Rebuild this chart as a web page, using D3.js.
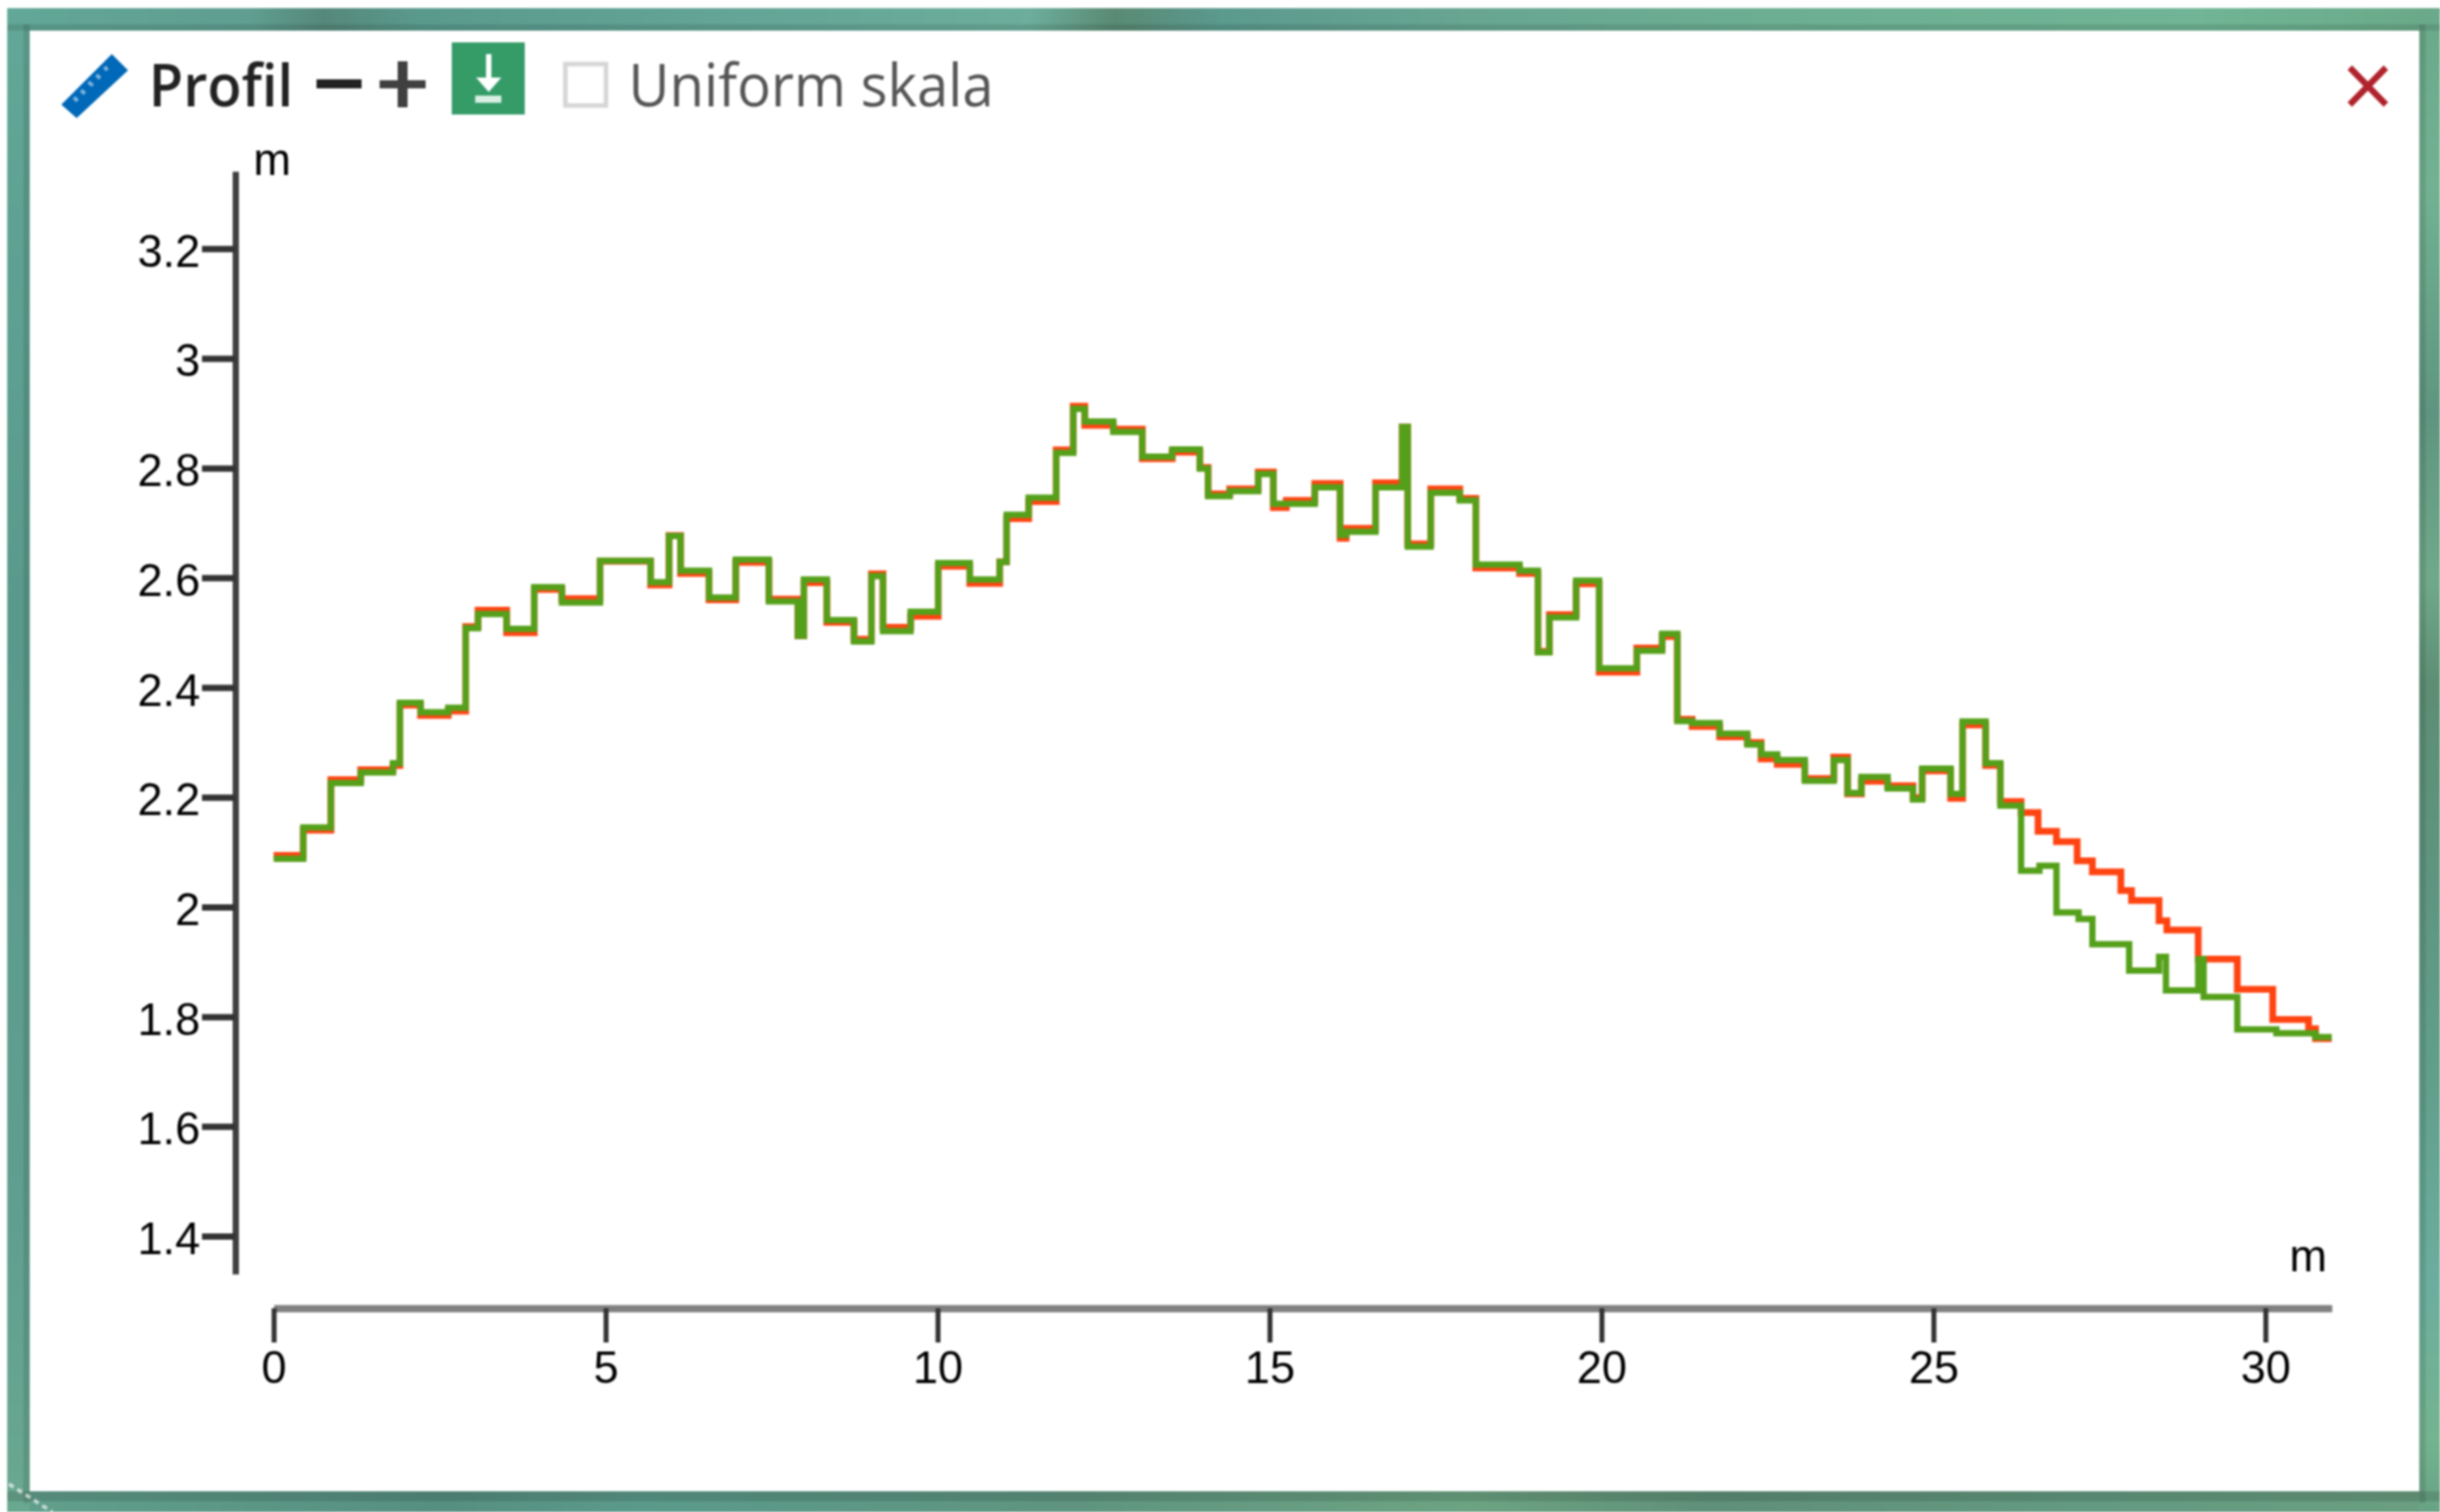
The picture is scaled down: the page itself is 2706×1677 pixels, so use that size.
<!DOCTYPE html>
<html>
<head>
<meta charset="utf-8">
<title>Profil</title>
<script src="https://cdn.jsdelivr.net/npm/d3@7"></script>
<style>
  html, body { margin: 0; padding: 0; background: #fff; overflow: hidden; }
  svg { display: block; filter: blur(1px); }
  .tick text, .unit { font-family: "Liberation Sans", Arial, sans-serif; font-size: 50px; fill: #000; }
  .head { font-family: "Open Sans", sans-serif; font-size: 65px; }
</style>
</head>
<body>
<div id="root"></div>
<script>
// distance along the profile (m) where each step starts, same for both lines up to 26 m
const sharedDist = [0, 0.446, 0.862, 1.312, 1.797, 1.901, 2.213, 2.629, 2.892, 3.079, 3.509, 3.925, 4.341, 4.916,
  5.678, 5.955, 6.129, 6.558, 6.96, 7.459, 7.896, 7.986, 8.332, 8.741, 9.004, 9.178, 9.594, 10.01, 10.485, 10.935,
  11.04, 11.372, 11.787, 12.044, 12.217, 12.647, 13.083, 13.534, 13.95, 14.074, 14.4, 14.83, 15.058, 15.252, 15.682,
  16.063, 16.153, 16.597, 16.999, 17.082, 17.428, 17.865, 18.107, 18.766, 19.043, 19.216, 19.618, 19.965, 20.533,
  20.914, 21.143, 21.365, 21.78, 22.196, 22.404, 22.647, 23.062, 23.499, 23.707, 23.915, 24.31, 24.691, 24.83,
  25.259, 25.439, 25.786, 26.008];

const greenShared = [2.088, 2.145, 2.226, 2.245, 2.262, 2.372, 2.355, 2.363, 2.508, 2.534, 2.507, 2.583, 2.555, 2.631,
  2.592, 2.676, 2.613, 2.564, 2.633, 2.557, 2.494, 2.597, 2.523, 2.484, 2.603, 2.503, 2.538, 2.627, 2.597, 2.629,
  2.715, 2.746, 2.828, 2.908, 2.885, 2.866, 2.821, 2.834, 2.799, 2.749, 2.758, 2.789, 2.735, 2.735, 2.765,
  2.678, 2.684, 2.765, 2.875, 2.657, 2.755, 2.741, 2.624, 2.613, 2.464, 2.528, 2.595, 2.435, 2.467,
  2.498, 2.339, 2.335, 2.316, 2.296, 2.278, 2.268, 2.23, 2.268, 2.208, 2.237, 2.216, 2.196, 2.252,
  2.206, 2.338, 2.262, 2.185];

const redShared = [2.094, 2.14, 2.232, 2.25, 2.258, 2.368, 2.349, 2.357, 2.511, 2.541, 2.5, 2.579, 2.562, 2.63,
  2.587, 2.677, 2.608, 2.56, 2.628, 2.561, 2.494, 2.591, 2.519, 2.488, 2.607, 2.51, 2.53, 2.621, 2.59, 2.629,
  2.708, 2.739, 2.833, 2.913, 2.878, 2.871, 2.817, 2.829, 2.801, 2.753, 2.762, 2.793, 2.728, 2.741, 2.772,
  2.672, 2.69, 2.773, 2.875, 2.662, 2.762, 2.745, 2.618, 2.608, 2.466, 2.533, 2.589, 2.428, 2.472,
  2.493, 2.342, 2.329, 2.31, 2.3, 2.27, 2.26, 2.234, 2.273, 2.206, 2.229, 2.221, 2.199, 2.248,
  2.198, 2.332, 2.258, 2.192];

// the last few metres, where the two lines split
const greenTailDist = [26.32, 26.597, 26.853, 27.186, 27.394, 27.948, 28.398, 28.502, 28.988, 29.07, 29.577, 30.166, 30.755, 31];
const greenTail = [2.066, 2.075, 1.99, 1.978, 1.932, 1.884, 1.909, 1.848, 1.905, 1.836, 1.777, 1.77, 1.763, 1.763];
const redTailDist = [26.32, 26.576, 26.853, 27.165, 27.394, 27.823, 27.983, 28.398, 28.516, 28.988, 29.577, 30.11, 30.65, 30.755, 31];
const redTail = [2.172, 2.138, 2.119, 2.084, 2.064, 2.03, 2.012, 1.975, 1.958, 1.905, 1.85, 1.795, 1.778, 1.76, 1.76];

const xTicks = [0, 5, 10, 15, 20, 25, 30];
const yTicks = [1.4, 1.6, 1.8, 2, 2.2, 2.4, 2.6, 2.8, 3, 3.2];

const w = 2706;
const h = 1677;

const svg = d3.select("#root").append("svg").attr("width", w).attr("height", h);
const defs = svg.append("defs");

// map background showing round the panel
function band(id, x1, y1, x2, y2, stops) {
  const g = defs.append("linearGradient").attr("id", id)
    .attr("x1", x1).attr("y1", y1).attr("x2", x2).attr("y2", y2);
  stops.forEach(s => g.append("stop").attr("offset", s[0]).attr("stop-color", s[1]));
}
band("bandTop", 0, 0, 1, 0, [[0, "#62a797"], [0.1, "#5f9e90"], [0.13, "#55887a"], [0.17, "#5a9a8d"], [0.3, "#63a596"],
  [0.42, "#6cae9b"], [0.455, "#5a8a74"], [0.5, "#5b9a8e"], [0.6, "#68a692"], [0.72, "#6cae92"], [0.9, "#70b595"], [1, "#6aa988"]]);
band("bandBottom", 0, 0, 1, 0, [[0, "#62a08c"], [0.18, "#568f80"], [0.26, "#5b9a8a"], [0.44, "#5f9580"], [0.6, "#6ca482"],
  [0.7, "#5f9078"], [0.85, "#639a80"], [1, "#6a9f80"]]);
band("bandRight", 0, 0, 0, 1, [[0, "#6aa98a"], [0.12, "#72b292"], [0.27, "#5f9580"], [0.38, "#70a98a"], [0.45, "#5d8e74"],
  [0.58, "#5f9580"], [0.72, "#62a08c"], [0.85, "#6cae9e"], [0.95, "#74b490"], [1, "#68a284"]]);
band("bandLeft", 0, 0, 0, 1, [[0, "#62a797"], [0.4, "#5a9a8c"], [0.8, "#609f90"], [1, "#6aa890"]]);

svg.append("rect").attr("x", 8).attr("y", 9).attr("width", w - 8).attr("height", 25).attr("fill", "url(#bandTop)");
svg.append("rect").attr("x", 8).attr("y", 1654).attr("width", w - 8).attr("height", 23).attr("fill", "url(#bandBottom)");
svg.append("rect").attr("x", 2683).attr("y", 9).attr("width", 23).attr("height", h - 9).attr("fill", "url(#bandRight)");
svg.append("rect").attr("x", 8).attr("y", 9).attr("width", 25).attr("height", h - 9).attr("fill", "url(#bandLeft)");
// darker shadow just outside the panel edge
svg.append("rect").attr("x", 8).attr("y", 27).attr("width", w - 8).attr("height", 7).attr("fill", "#000").attr("opacity", 0.1);
svg.append("rect").attr("x", 8).attr("y", 1654).attr("width", w - 8).attr("height", 11).attr("fill", "#000").attr("opacity", 0.12);
svg.append("rect").attr("x", 2683).attr("y", 27).attr("width", 7).attr("height", 1640).attr("fill", "#000").attr("opacity", 0.1);
svg.append("rect").attr("x", 26).attr("y", 27).attr("width", 7).attr("height", 1640).attr("fill", "#000").attr("opacity", 0.1);
svg.append("line").attr("x1", 10).attr("y1", 1646).attr("x2", 58).attr("y2", 1677)
  .attr("stroke", "#fff").attr("stroke-width", 4).attr("stroke-dasharray", "6 5").attr("opacity", 0.65);

// white panel
svg.append("rect").attr("x", 33).attr("y", 34).attr("width", 2650).attr("height", 1620).attr("fill", "#fff");

// header: ruler icon
svg.append("polygon").attr("points", "124,60 142,78 85,131 68,116").attr("fill", "#0068b8");
[[116, 74, 119, 78], [107, 83, 111, 87], [98, 91, 103, 95], [90, 100, 94, 104], [82, 108, 86, 112]].forEach(m => {
  svg.append("line").attr("x1", m[0]).attr("y1", m[1]).attr("x2", m[2]).attr("y2", m[3])
    .attr("stroke", "#7db4de").attr("stroke-width", 4);
});

svg.append("text").attr("class", "head").attr("x", 165).attr("y", 118)
  .attr("fill", "#222").attr("textLength", 160).attr("lengthAdjust", "spacingAndGlyphs")
  .style("font-weight", 600).text("Profil");

// minus and plus
svg.append("rect").attr("x", 351).attr("y", 88).attr("width", 50).attr("height", 10).attr("fill", "#222");
svg.append("rect").attr("x", 421).attr("y", 89).attr("width", 51).attr("height", 9).attr("fill", "#404040");
svg.append("rect").attr("x", 441).attr("y", 68).attr("width", 11).attr("height", 51).attr("fill", "#404040");

// download button
svg.append("rect").attr("x", 501).attr("y", 47).attr("width", 81).attr("height", 80).attr("fill", "#359c68");
svg.append("rect").attr("x", 539).attr("y", 60).attr("width", 6).attr("height", 30).attr("fill", "#fff");
svg.append("polygon").attr("points", "528,86 556,86 542,102").attr("fill", "#fff");
svg.append("rect").attr("x", 527).attr("y", 106).attr("width", 29).attr("height", 8).attr("fill", "#d8efe2");

// checkbox and its label
svg.append("rect").attr("x", 627).attr("y", 71).attr("width", 45).attr("height", 46)
  .attr("fill", "#fff").attr("stroke", "#d6d6d6").attr("stroke-width", 5);
svg.append("text").attr("class", "head").attr("x", 697).attr("y", 118)
  .attr("fill", "#555").attr("textLength", 405).attr("lengthAdjust", "spacingAndGlyphs").text("Uniform skala");

// close cross
svg.append("path").attr("d", "M2606,75L2646,116M2646,75L2606,116")
  .attr("stroke", "#b0222c").attr("stroke-width", 7).attr("fill", "none");

// scales
const x = d3.scaleLinear().domain([0, 31]).range([303.5, 2586]);
const y = d3.scaleLinear().domain([1.331, 3.341]).range([1413, 190]);

// y axis
const yAxis = svg.append("g").attr("transform", "translate(261,0)")
  .call(d3.axisLeft(y).tickValues(yTicks).tickFormat(d3.format("~g")).tickSize(37).tickSizeOuter(0).tickPadding(2));
yAxis.select(".domain").attr("stroke", "#404040").attr("stroke-width", 7);
yAxis.selectAll(".tick line").attr("stroke", "#333").attr("stroke-width", 7);
yAxis.selectAll(".tick text").attr("dy", "0.39em")
  .style("font-family", "'Liberation Sans', Arial, sans-serif").style("font-size", "50px").attr("fill", "#000");

// x axis
const xAxis = svg.append("g").attr("transform", "translate(0,1451)")
  .call(d3.axisBottom(x).tickValues(xTicks).tickSize(38).tickSizeOuter(0).tickPadding(9));
xAxis.select(".domain").attr("stroke", "#808080").attr("stroke-width", 8);
xAxis.selectAll(".tick line").attr("stroke", "#333").attr("stroke-width", 5.5);
xAxis.selectAll(".tick text").attr("dy", "0.71em")
  .style("font-family", "'Liberation Sans', Arial, sans-serif").style("font-size", "50px").attr("fill", "#000");

svg.append("text").attr("class", "unit").attr("x", 281).attr("y", 194).text("m");
svg.append("text").attr("class", "unit").attr("x", 2539).attr("y", 1410).text("m");

// profile lines, red first so green sits on top
const line = d3.line().x(d => x(d[0])).y(d => y(d[1])).curve(d3.curveStepAfter);
const redData = d3.zip(sharedDist.concat(redTailDist), redShared.concat(redTail));
const greenData = d3.zip(sharedDist.concat(greenTailDist), greenShared.concat(greenTail));

svg.append("path").datum(redData).attr("d", line)
  .attr("fill", "none").attr("stroke", "#ff4412").attr("stroke-width", 7.5);
svg.append("path").datum(greenData).attr("d", line)
  .attr("fill", "none").attr("stroke", "#55a01a").attr("stroke-width", 7);
</script>
</body>
</html>
